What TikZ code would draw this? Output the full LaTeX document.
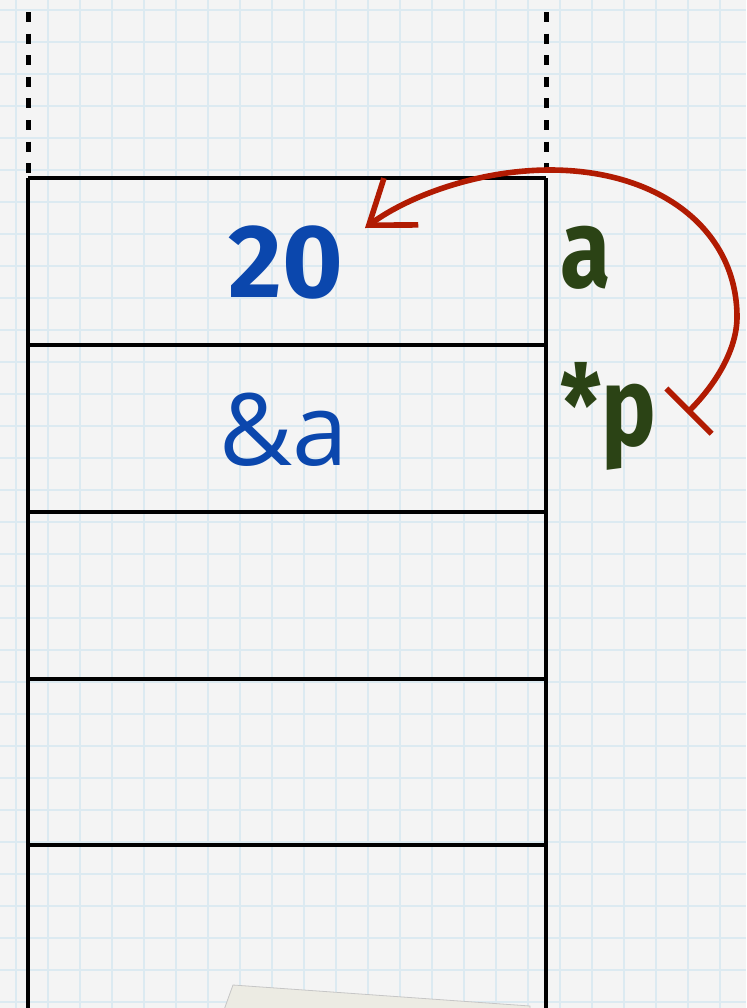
\documentclass[tikz,border=0pt]{standalone}
\usepackage{fontspec}
\usetikzlibrary{arrows.meta}
\newfontfamily\handfont[FakeStretch=0.82]{Fira Sans}
\newfontfamily\valfont{Fira Sans}
\newfontfamily\plainfont{Open Sans}
\definecolor{paper}{HTML}{F4F4F4}
\definecolor{gridblue}{HTML}{DCEAF1}
\definecolor{valblue}{HTML}{0B47AD}
\definecolor{namegreen}{HTML}{2B4315}
\definecolor{ptrred}{HTML}{B11B02}
\definecolor{tape}{HTML}{ECEBE3}

\begin{document}
\begin{tikzpicture}[x=0.5pt,y=-0.5pt,
  gridline/.style={gridblue,line width=1pt},
  stackline/.style={black,line width=2.2pt},
  openline/.style={black,line width=2.5pt,dash pattern=on 5pt off 5.8pt},
  valtext/.style={text=valblue,font=\valfont\bfseries\fontsize{52}{52}\selectfont,inner sep=0pt},
  addrtext/.style={text=valblue,font=\plainfont\fontsize{50}{50}\selectfont,inner sep=0pt},
  nametext/.style={text=namegreen,font=\handfont\bfseries\fontsize{56}{56}\selectfont,inner sep=0pt},
  ptr/.style={ptrred,line width=2.8pt,line cap=round,
    {Bar[width=32pt,line width=2.8pt]}-{Straight Barb[length=20pt,width=29pt,line width=2.8pt]}}]
\useasboundingbox (0,0) rectangle (746,1008);
\fill[paper] (0,0) rectangle (746,1008);
% graph paper
\foreach \gx in {16,48,...,746} \draw[gridline] (\gx,0) -- (\gx,1008);
\foreach \gy in {10,42,...,1008} \draw[gridline] (0,\gy) -- (746,\gy);
\fill[tape,draw=gray!45,line width=0.4pt] (233,985) -- (530,1006) -- (530,1010) -- (224,1010) -- (229,996) -- cycle;

% stack frame
\foreach \sx in {28,546} {
  \draw[openline] (\sx,12) -- (\sx,176);
  \draw[stackline] (\sx,178) -- (\sx,1008);
}
\foreach \sy in {178,345,512,679,845} \draw[stackline] (28,\sy) -- (546,\sy);

\node[valtext,anchor=base] (val) at (286,297) {20};
\node[addrtext,anchor=base] (addr) at (284,465) {\&a};
\node[nametext,anchor=base west] (name) at (560,287) {a};
\node[nametext,anchor=base west] (ptrname) at (560,445) {*p};

\coordinate (tail) at (687,413);
\coordinate (head) at (365,228);
\draw[ptr] (tail) .. controls (715,385) and (737,350) .. (737,317)
  .. controls (737,230) and (660,170) .. (550,170)
  .. controls (480,170) and (410,195) .. (head);
\end{tikzpicture}
\end{document}
